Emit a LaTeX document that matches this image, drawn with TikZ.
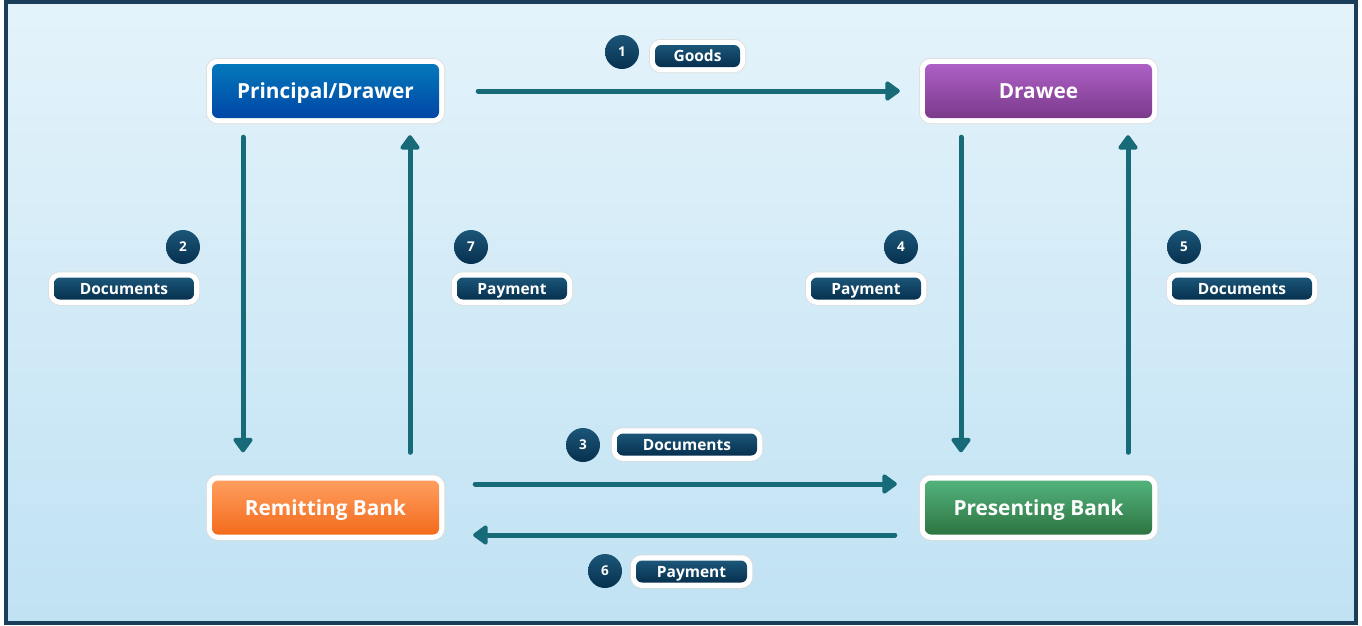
\documentclass[tikz,border=0pt]{standalone}
\usepackage{fontspec}
\setmainfont{Open Sans}
\usetikzlibrary{arrows.meta,calc}

\definecolor{bgtop}{HTML}{E4F3FB}
\definecolor{bgbot}{HTML}{C0E2F3}
\definecolor{framec}{HTML}{1A3D5A}
\definecolor{flow}{HTML}{176A78}
\definecolor{navytop}{HTML}{1B5678}
\definecolor{navybot}{HTML}{07304F}
\definecolor{bluetop}{HTML}{0478BA}
\definecolor{bluebot}{HTML}{0046A6}
\definecolor{purptop}{HTML}{AE60C5}
\definecolor{purpbot}{HTML}{7A3A8B}
\definecolor{orgtop}{HTML}{FF9E5E}
\definecolor{orgbot}{HTML}{F36B1C}
\definecolor{grntop}{HTML}{53B37C}
\definecolor{grnbot}{HTML}{2D7441}

\tikzset{
  party/.style={rounded corners=6pt, minimum width=227pt, minimum height=54pt,
    inner sep=0pt, text=white, font=\bfseries\fontsize{20.8}{24}\selectfont,
    text height=15pt, text depth=0pt,
    preaction={draw=black!14, line width=12pt},
    preaction={draw=white, line width=10.5pt}},
  tag/.style={rounded corners=6pt, minimum height=22pt, inner sep=0pt,
    top color=navytop, bottom color=navybot, text=white,
    font=\bfseries\fontsize{15.5}{18}\selectfont,
    text height=11.2pt, text depth=0pt,
    preaction={draw=black!14, line width=12pt},
    preaction={draw=white, line width=10.5pt}},
  stepno/.style={circle, minimum size=34pt, inner sep=0pt,
    top color=navytop, bottom color=navybot, text=white,
    font=\bfseries\fontsize{13.5}{15}\selectfont,
    text height=9.7pt, text depth=0pt},
  flowarrow/.style={draw=flow, line width=5pt, line cap=round,
    -{Triangle[length=16pt,width=22pt,round]}},
}

\begin{document}
\begin{tikzpicture}[x=1pt,y=-1pt]
\useasboundingbox (0,0) rectangle (1362,625);
% backdrop and frame
\shade[top color=bgtop, bottom color=bgbot] (6,2) rectangle (1356,623);
\draw[framec, line width=3.5pt] (6,2) rectangle (1356,623);

% parties
\node[party, top color=bluetop, bottom color=bluebot] (pd) at (325.5,91) {Principal/Drawer};
\node[party, top color=purptop, bottom color=purpbot] (dr) at (1038.5,91) {Drawee};
\node[party, top color=orgtop, bottom color=orgbot] (rb) at (325.5,507.5) {Remitting Bank};
\node[party, top color=grntop, bottom color=grnbot] (ps) at (1038.5,507.5) {Presenting Bank};

% flows
\draw[flowarrow, shorten <=39pt, shorten >=25pt] (pd.east) -- (dr.west);
\draw[flowarrow, shorten <=19pt, shorten >=28pt]
  ([xshift=-82.5pt]pd.south) -- ([xshift=-82.5pt]rb.north);
\draw[flowarrow, shorten <=28pt, shorten >=17pt]
  ([xshift=84.5pt]rb.north) -- ([xshift=84.5pt]pd.south);
\draw[flowarrow, shorten <=19pt, shorten >=28pt]
  ([xshift=-77.5pt]dr.south) -- ([xshift=-77.5pt]ps.north);
\draw[flowarrow, shorten <=28pt, shorten >=17pt]
  ([xshift=89.5pt]ps.north) -- ([xshift=89.5pt]dr.south);
\draw[flowarrow, shorten <=36pt, shorten >=28pt]
  ([yshift=23.5pt]rb.east) -- ([yshift=23.5pt]ps.west);
\draw[flowarrow, shorten <=30pt, shorten >=34pt]
  ([yshift=-27.5pt]ps.west) -- ([yshift=-27.5pt]rb.east);

% step numbers and labels
\node[stepno] (c1) at (622,52) {1};
\node[tag, minimum width=85pt] (t1) at (697.5,56) {Goods};
\node[stepno] (c2) at (183,247) {2};
\node[tag, minimum width=140pt] (t2) at (124,288.5) {Documents};
\node[stepno] (c7) at (471,247) {7};
\node[tag, minimum width=110pt] (t7) at (512,288.5) {Payment};
\node[stepno] (c4) at (901,247) {4};
\node[tag, minimum width=110pt] (t4) at (866,288.5) {Payment};
\node[stepno] (c5) at (1184,247) {5};
\node[tag, minimum width=140pt] (t5) at (1242,288.5) {Documents};
\node[stepno] (c3) at (583,445) {3};
\node[tag, minimum width=140pt] (t3) at (687,444.5) {Documents};
\node[stepno] (c6) at (605,571) {6};
\node[tag, minimum width=111pt] (t6) at (691.5,571.5) {Payment};
\end{tikzpicture}
\end{document}
